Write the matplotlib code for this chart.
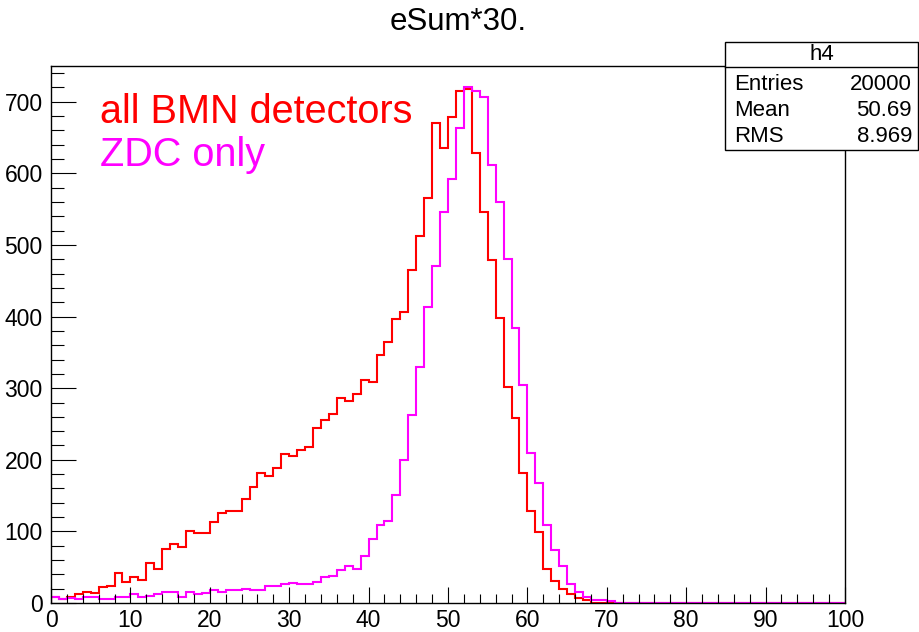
import numpy as np
import matplotlib
matplotlib.use("Agg")
import matplotlib.pyplot as plt
from matplotlib.patches import Rectangle
from matplotlib.ticker import MultipleLocator

plt.rcParams['font.family'] = ['Liberation Sans', 'DejaVu Sans']

# bin edges 0..100, width 1
edges = np.arange(0, 101)

# all BMN detectors (red), bins 0..67, rest empty
red_counts = [8, 5, 8, 12, 16, 14, 22, 24, 42, 30,
              36, 32, 56, 48, 75, 83, 78, 101, 98, 98,
              113, 126, 128, 129, 145, 162, 182, 178, 188, 208,
              205, 213, 218, 244, 255, 264, 287, 282, 292, 311,
              308, 346, 364, 397, 406, 465, 512, 565, 670, 636,
              679, 715, 718, 628, 546, 479, 398, 301, 259, 182,
              129, 99, 48, 31, 19, 12, 7, 4]
# ZDC only (magenta), bins 0..70
zdc_counts = [8, 5, 7, 5, 8, 8, 6, 6, 9, 9,
              12, 8, 10, 13, 16, 15, 8, 16, 13, 14,
              18, 16, 18, 18, 20, 18, 18, 24, 24, 26,
              28, 26, 26, 30, 36, 38, 46, 52, 48, 65,
              89, 109, 114, 151, 200, 262, 329, 414, 471, 546,
              592, 664, 721, 715, 707, 612, 560, 481, 384, 305,
              210, 167, 109, 74, 52, 26, 16, 9, 4, 4,
              3]

stat_names = ["Entries", "Mean", "RMS"]
stat_values = ["20000", "50.69", "8.969"]


def pad(counts):
    return np.array(counts + [0] * (100 - len(counts)), dtype=float)


def main():
    W, H = 919, 632
    fig = plt.figure(figsize=(W / 100, H / 100), dpi=100)
    ax = fig.add_axes([51 / W, 1 - 603 / H, (845 - 51) / W, (603 - 66) / H])

    ax.stairs(pad(red_counts), edges, color='#ff0000', lw=1.5)
    ax.stairs(pad(zdc_counts), edges, color='#ff00ff', lw=1.5)

    ax.set_xlim(0, 100)
    ax.set_ylim(0, 750)

    ax.xaxis.set_major_locator(MultipleLocator(10))
    ax.xaxis.set_minor_locator(MultipleLocator(2))
    ax.yaxis.set_major_locator(MultipleLocator(100))
    ax.yaxis.set_minor_locator(MultipleLocator(20))
    ax.tick_params(which='both', direction='in', top=False, right=False,
                   labelsize=16.5, width=0.8)
    ax.tick_params(axis='x', which='major', length=11.5, pad=4)
    ax.tick_params(axis='x', which='minor', length=6.5)
    ax.tick_params(axis='y', which='major', length=18, pad=6)
    ax.tick_params(axis='y', which='minor', length=9.5)
    for s in ax.spines.values():
        s.set_linewidth(1.0)

    ax.text(0.062, 0.915, "all BMN detectors", transform=ax.transAxes,
            color='#ff0000', fontsize=28.5, va='center', ha='left')
    ax.text(0.062, 0.835, "ZDC only", transform=ax.transAxes,
            color='#ff00ff', fontsize=28.5, va='center', ha='left')

    fig.text(458 / W, 1 - 22 / H, "eSum*30.", ha='center', va='center', fontsize=22.5)

    # stats box
    bx0, bx1, by0, by1 = 725, 918, 42, 150
    fig.add_artist(Rectangle((bx0 / W, 1 - by1 / H), (bx1 - bx0) / W, (by1 - by0) / H,
                             transform=fig.transFigure, facecolor='white',
                             edgecolor='black', lw=1.0, zorder=10))
    fig.add_artist(plt.Line2D([bx0 / W, bx1 / W], [1 - 67 / H, 1 - 67 / H],
                              transform=fig.transFigure, color='black', lw=1.0, zorder=11))
    fig.text((bx0 + bx1) / 2 / W, 1 - 55 / H, "h4", ha='center', va='center',
             fontsize=16, zorder=12)
    for i, (n, v) in enumerate(zip(stat_names, stat_values)):
        y = 1 - (84 + 26.5 * i) / H
        fig.text(734 / W, y, n, ha='left', va='center', fontsize=16, zorder=12)
        fig.text(912 / W, y, v, ha='right', va='center', fontsize=16, zorder=12)

    fig.savefig("out.png", dpi=100)


if __name__ == "__main__":
    main()
